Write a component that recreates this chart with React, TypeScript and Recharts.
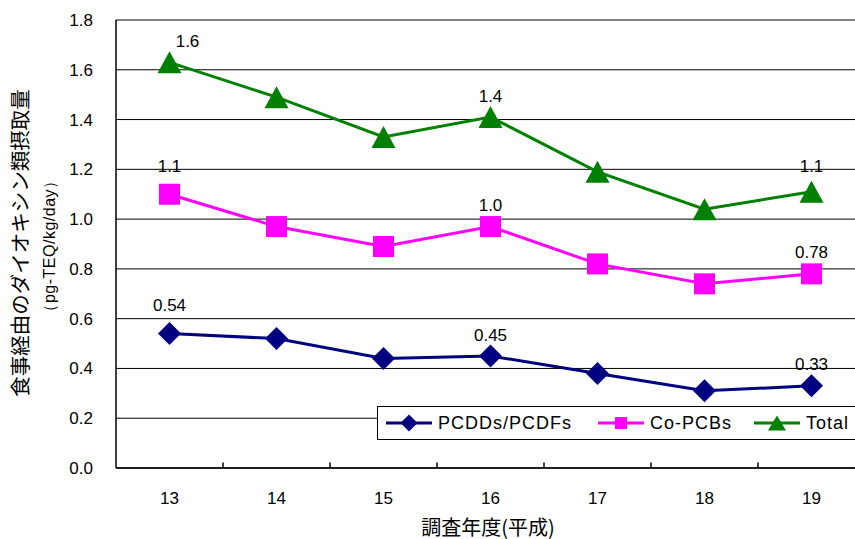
import React from "react";
import {
  LineChart,
  Line,
  XAxis,
  YAxis,
  CartesianGrid,
  Legend,
  LabelList,
  ReferenceLine,
} from "recharts";

// survey years (Heisei)
const years = [13, 14, 15, 16, 17, 18, 19];
const pcddValues = [0.54, 0.52, 0.44, 0.45, 0.38, 0.31, 0.33];
const copcbValues = [1.1, 0.97, 0.89, 0.97, 0.82, 0.74, 0.78];
const totalValues = [1.63, 1.49, 1.33, 1.41, 1.19, 1.04, 1.11];

// only some points carry a value label
const pcddLabels = ["0.54", "", "", "0.45", "", "", "0.33"];
const copcbLabels = ["1.1", "", "", "1.0", "", "", "0.78"];
const totalLabels = ["1.6", "", "", "1.4", "", "", "1.1"];

const yTicks = [0, 0.2, 0.4, 0.6, 0.8, 1.0, 1.2, 1.4, 1.6, 1.8];
const boundaryTicks = [13.5, 14.5, 15.5, 16.5, 17.5, 18.5];

const seriesNames = ["PCDDs/PCDFs", "Co-PCBs", "Total"];
const yTitle = "食事経由のダイオキシン類摂取量";
const yUnit = "（pg-TEQ/kg/day）";
const xTitle = "調査年度(平成)";

const data = years.map((y, i) => ({
  year: y,
  pcdd: pcddValues[i],
  copcb: copcbValues[i],
  total: totalValues[i],
  pcddLabel: pcddLabels[i],
  copcbLabel: copcbLabels[i],
  totalLabel: totalLabels[i],
}));

const NAVY = "#000080";
const PINK = "#FF00FF";
const GREEN = "#008000";
const NUM_FONT = "'Liberation Sans', Arial, sans-serif";
const JP_FONT = "'Noto Sans CJK JP', sans-serif";

const Diamond = ({ cx, cy, r = 11, fill }: any) => (
  <polygon
    points={`${cx},${cy - r} ${cx + r},${cy} ${cx},${cy + r} ${cx - r},${cy}`}
    fill={fill}
  />
);
const Square = ({ cx, cy, r = 10.5, fill }: any) => (
  <rect x={cx - r} y={cy - r} width={r * 2} height={r * 2} fill={fill} />
);
const Triangle = ({ cx, cy, w = 24, h = 22, fill }: any) => (
  <polygon
    points={`${cx},${cy - h / 2} ${cx + w / 2},${cy + h / 2} ${cx - w / 2},${cy + h / 2}`}
    fill={fill}
  />
);

// label placement: first point may be nudged, last point may sit a bit higher
const makeLabel = (dxFirst = 0, dyFirst = 0, dyLast = 0) => (props: any) => {
  const { x, y, value, index } = props;
  if (!value) return null;
  const dx = index === 0 ? dxFirst : 0;
  const dy = index === 0 ? dyFirst : index === years.length - 1 ? dyLast : 0;
  return (
    <text
      x={x + dx}
      y={y - 21 + dy}
      textAnchor="middle"
      dominantBaseline="central"
      fontSize={17}
      fontFamily={NUM_FONT}
      fill="#000"
    >
      {value}
    </text>
  );
};

const markerFor = (key: string, cx: number, cy: number, color: string) => {
  if (key === "pcdd") return <Diamond cx={cx} cy={cy} r={8.5} fill={color} />;
  if (key === "copcb") return <Square cx={cx} cy={cy} r={6} fill={color} />;
  return <Triangle cx={cx} cy={cy} w={18} h={15} fill={color} />;
};

const itemLefts = [8, 220, 376];

const LegendBox = ({ payload }: any) => {
  const items = [...(payload || [])].sort(
    (a: any, b: any) => seriesNames.indexOf(a.value) - seriesNames.indexOf(b.value)
  );
  return (
    <div
      style={{
        position: "relative",
        width: 500,
        height: 34,
        boxSizing: "border-box",
        border: "1px solid #000",
        background: "#fff",
      }}
    >
      {items.map((p: any, i: number) => (
        <div
          key={p.value}
          style={{
            position: "absolute",
            left: itemLefts[i],
            top: 0,
            height: 32,
            display: "flex",
            alignItems: "center",
          }}
        >
          <svg width={46} height={20} style={{ display: "block" }}>
            <line x1={0} y1={10} x2={46} y2={10} stroke={p.color} strokeWidth={3} />
            {markerFor(p.dataKey, 23, 10, p.color)}
          </svg>
          <span
            style={{
              marginLeft: 6,
              fontFamily: NUM_FONT,
              fontSize: 18,
              letterSpacing: 1,
              whiteSpace: "nowrap",
              color: "#000",
            }}
          >
            {p.value}
          </span>
        </div>
      ))}
    </div>
  );
};

export default function App() {
  return (
    <div
      style={{
        position: "absolute",
        left: 0,
        top: 0,
        width: 855,
        height: 539,
        overflow: "hidden",
        background: "#fff",
      }}
    >
      <LineChart
        width={870}
        height={539}
        data={data}
        margin={{ top: 20, right: 5, bottom: 31, left: 66 }}
      >
        <CartesianGrid vertical={false} stroke="#000" strokeWidth={1} />
        <ReferenceLine y={1.8} stroke="#808080" strokeWidth={2} />
        {boundaryTicks.map((b) => (
          <ReferenceLine
            key={b}
            segment={[
              { x: b, y: 0 },
              { x: b, y: 0.022 },
            ]}
            stroke="#000"
            strokeWidth={1.5}
          />
        ))}
        <XAxis
          dataKey="year"
          type="number"
          domain={[12.5, 19.5]}
          ticks={years}
          height={40}
          tickLine={false}
          tickSize={0}
          tickMargin={24}
          axisLine={{ stroke: "#000", strokeWidth: 1.5 }}
          tick={{ fill: "#000", fontSize: 17, fontFamily: NUM_FONT }}
        />
        <YAxis
          domain={[0, 1.8]}
          ticks={yTicks}
          width={50}
          tickLine={false}
          tickSize={0}
          tickMargin={23}
          interval={0}
          axisLine={{ stroke: "#000", strokeWidth: 1.5 }}
          tickFormatter={(v: number) => v.toFixed(1)}
          tick={{ fill: "#000", fontSize: 17, fontFamily: NUM_FONT }}
        />
        <Legend
          layout="horizontal"
          verticalAlign="middle"
          align="center"
          wrapperStyle={{ left: 377, top: 406, width: 500, height: 34 }}
          content={(props: any) => <LegendBox {...props} />}
        />
        <Line
          type="linear"
          dataKey="pcdd"
          name={seriesNames[0]}
          stroke={NAVY}
          strokeWidth={3}
          isAnimationActive={false}
          dot={(p: any) => <Diamond key={p.index} cx={p.cx} cy={p.cy} r={11.5} fill={NAVY} />}
          activeDot={false}
        >
          <LabelList dataKey="pcddLabel" content={makeLabel(0, -7, 0)} />
        </Line>
        <Line
          type="linear"
          dataKey="copcb"
          name={seriesNames[1]}
          stroke={PINK}
          strokeWidth={3}
          isAnimationActive={false}
          dot={(p: any) => <Square key={p.index} cx={p.cx} cy={p.cy} r={10.5} fill={PINK} />}
          activeDot={false}
        >
          <LabelList dataKey="copcbLabel" content={makeLabel(0, -7, 0)} />
        </Line>
        <Line
          type="linear"
          dataKey="total"
          name={seriesNames[2]}
          stroke={GREEN}
          strokeWidth={3}
          isAnimationActive={false}
          dot={(p: any) => (
            <Triangle key={p.index} cx={p.cx} cy={p.cy} w={24} h={22} fill={GREEN} />
          )}
          activeDot={false}
        >
          <LabelList dataKey="totalLabel" content={makeLabel(18, 0, -4)} />
        </Line>
      </LineChart>
      <svg
        width={855}
        height={539}
        style={{ position: "absolute", left: 0, top: 0, pointerEvents: "none" }}
      >
        <text
          transform="translate(19,243) rotate(-90)"
          textAnchor="middle"
          dominantBaseline="central"
          fontSize={20.5}
          fontFamily={JP_FONT}
          fill="#000"
        >
          {yTitle}
        </text>
        <text
          transform="translate(49,246) rotate(-90)"
          textAnchor="middle"
          dominantBaseline="central"
          fontSize={16}
          fontFamily={NUM_FONT}
          letterSpacing={0.5}
          fill="#000"
        >
          {yUnit}
        </text>
        <text
          x={488}
          y={526}
          textAnchor="middle"
          dominantBaseline="central"
          fontSize={20}
          fontFamily={JP_FONT}
          fill="#000"
        >
          {xTitle}
        </text>
      </svg>
    </div>
  );
}
